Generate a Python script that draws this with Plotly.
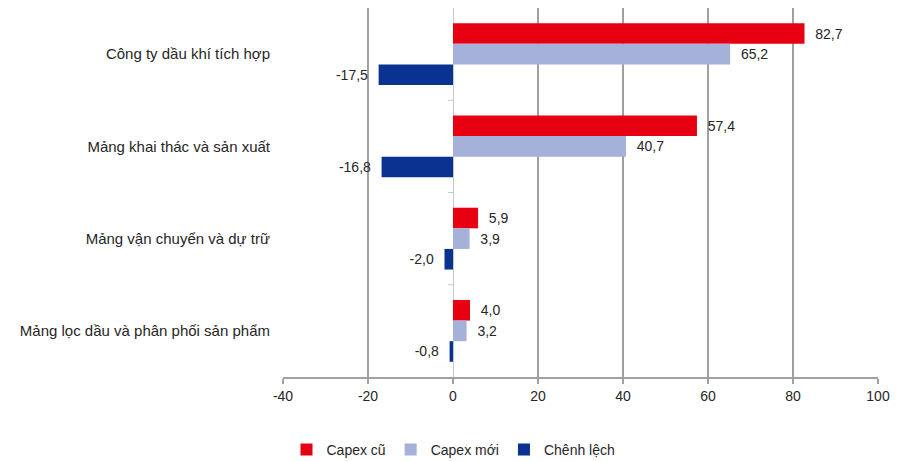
import plotly.graph_objects as go

categories = ["Công ty dầu khí tích hợp", "Mảng khai thác và sản xuất",
              "Mảng vận chuyển và dự trữ", "Mảng lọc dầu và phân phối sản phẩm"]
capex_cu = [82.7, 57.4, 5.9, 4.0]
capex_moi = [65.2, 40.7, 3.9, 3.2]
chenh_lech = [-17.5, -16.8, -2.0, -0.8]
series_names = ["Capex cũ", "Capex mới", "Chênh lệch"]
colors = ["#E60012", "#A5B1D8", "#0A3290"]
x_ticks = [-40, -20, 0, 20, 40, 60, 80, 100]


def fmt(v):
    return f"{v:.1f}".replace(".", ",")


fig = go.Figure()
for name, vals, col in zip(series_names, [capex_cu, capex_moi, chenh_lech], colors):
    fig.add_trace(go.Bar(
        y=categories, x=vals, name=name, orientation="h",
        marker=dict(color=col, line=dict(width=0)),
        text=[f"  {fmt(v)}  " for v in vals], textposition="outside",
        constraintext="none",
        textfont=dict(size=14, color="#262626"), cliponaxis=False,
    ))

# small tick marks on the zero axis at category boundaries
for i in range(1, len(categories)):
    fig.add_shape(type="line", xref="x", yref="y", xsizemode="pixel", xanchor=0,
                  x0=-5, x1=0, y0=i - 0.5, y1=i - 0.5,
                  line=dict(color="#c8c8c8", width=1))

fig.update_layout(
    width=907, height=461,
    margin=dict(l=283, r=29, t=8, b=84),
    plot_bgcolor="white", paper_bgcolor="white",
    barmode="group", bargap=0.33, bargroupgap=0,
    font=dict(family="Liberation Sans, Arial, sans-serif", size=14, color="#262626"),
    showlegend=True,
    legend=dict(orientation="h", xref="container", x=0.5, xanchor="center",
                yref="container", y=0.024, yanchor="middle",
                font=dict(size=14), itemwidth=30, traceorder="normal",
                tracegroupgap=0),
    xaxis=dict(range=[-40, 100], tickvals=x_ticks, ticktext=[str(t) for t in x_ticks],
               showgrid=True, gridcolor="#a0a0a0", gridwidth=1.5,
               zeroline=True, zerolinecolor="#c8c8c8", zerolinewidth=1,
               showline=True, linecolor="#a0a0a0", linewidth=1.5,
               ticks="outside", ticklen=5, tickcolor="#a0a0a0", tickwidth=1.5,
               tickfont=dict(size=14), fixedrange=True),
    yaxis=dict(categoryorder="array", categoryarray=categories, autorange="reversed",
               showgrid=False, zeroline=False, showline=False, ticks="",
               ticklabelstandoff=12, tickfont=dict(size=15)),
)

fig.write_html("out.html")
